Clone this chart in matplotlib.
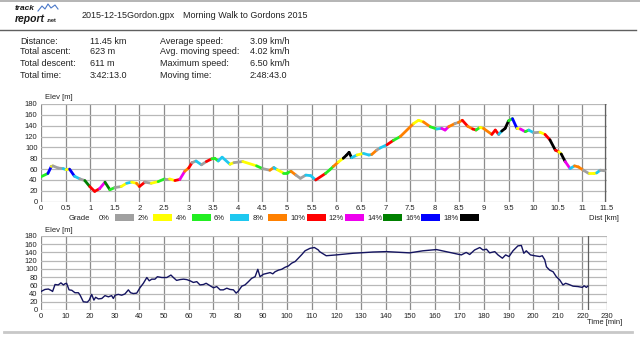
import numpy as np
import matplotlib
matplotlib.use("Agg")
import matplotlib.pyplot as plt
from matplotlib.collections import LineCollection
from matplotlib.patches import Rectangle
from matplotlib.lines import Line2D

plt.rcParams['font.family'] = ['Liberation Sans', 'DejaVu Sans']

# header / summary text
file_name = "2015-12-15Gordon.gpx"
track_title = "Morning Walk to Gordons 2015"
stat_labels_1 = ["Distance:", "Total ascent:", "Total descent:", "Total time:"]
stat_values_1 = ["11.45 km", "623 m", "611 m", "3:42:13.0"]
stat_labels_2 = ["Average speed:", "Avg. moving speed:", "Maximum speed:", "Moving time:"]
stat_values_2 = ["3.09 km/h", "4.02 km/h", "6.50 km/h", "2:48:43.0"]

# elevation vs distance (grade coloured)
dist_km = [0.00, 0.14, 0.21, 0.24, 0.35, 0.45, 0.51, 0.58, 0.68, 0.79,
           0.89, 0.99, 1.09, 1.19, 1.30, 1.40, 1.50, 1.63, 1.74, 1.84,
           1.94, 2.00, 2.11, 2.24, 2.38, 2.51, 2.61, 2.72, 2.82, 2.92,
           3.00, 3.07, 3.15, 3.26, 3.36, 3.47, 3.53, 3.60, 3.68, 3.84,
           3.92, 4.10, 4.38, 4.50, 4.65, 4.73, 4.80, 4.92, 5.00, 5.08,
           5.18, 5.27, 5.38, 5.48, 5.58, 5.78, 5.87, 5.94, 6.04, 6.14,
           6.21, 6.26, 6.31, 6.42, 6.55, 6.66, 6.72, 6.82, 6.89, 7.03,
           7.16, 7.30, 7.57, 7.67, 7.77, 7.91, 8.04, 8.14, 8.21, 8.28,
           8.41, 8.48, 8.56, 8.67, 8.77, 8.84, 8.92, 8.99, 9.16, 9.23,
           9.30, 9.36, 9.43, 9.50, 9.58, 9.67, 9.74, 9.84, 9.91, 10.01,
           10.14, 10.24, 10.34, 10.45, 10.52, 10.57, 10.65, 10.75, 10.84, 10.92,
           11.02, 11.13, 11.23, 11.29, 11.36, 11.45]
elev_m = [46, 52, 65, 66, 62, 61, 59, 60, 47, 42,
          39, 28, 19, 24, 36, 22, 26, 28, 34, 36,
          34, 28, 36, 34, 37, 42, 42, 39, 41, 56,
          62, 72, 75, 68, 74, 79, 80, 75, 82, 69,
          72, 74, 66, 61, 58, 63, 59, 53, 53, 56,
          49, 43, 49, 48, 40, 52, 59, 65, 73, 80,
          86, 91, 81, 86, 89, 86, 87, 95, 99, 105,
          113, 120, 144, 150, 147, 138, 134, 135, 132, 138,
          144, 146, 150, 139, 134, 132, 137, 135, 124, 132,
          124, 130, 135, 149, 153, 135, 134, 129, 132, 127,
          128, 124, 114, 95, 92, 88, 74, 61, 66, 64,
          58, 52, 52, 53, 58, 57]
# grade class of each segment: 0 -> 0-2%, 1 -> 2-4%, ... 9 -> 18%+
grade_bin = [2, 8, 1, 0, 0, 3, 1, 8, 3, 0,
             7, 5, 5, 6, 7, 2, 0, 1, 3, 1,
             4, 5, 0, 1, 2, 0, 1, 5, 6, 4,
             5, 0, 3, 0, 5, 2, 2, 3, 3, 1,
             0, 1, 2, 0, 4, 3, 1, 2, 2, 4,
             0, 0, 3, 3, 5, 2, 2, 4, 1, 9,
             9, 9, 3, 1, 3, 3, 4, 0, 3, 5,
             2, 4, 1, 1, 4, 2, 3, 6, 6, 4,
             0, 4, 5, 4, 5, 2, 1, 4, 5, 5,
             3, 9, 9, 2, 8, 1, 6, 2, 3, 0,
             1, 5, 9, 5, 1, 9, 6, 3, 4, 4,
             0, 1, 1, 3, 0]
grade_labels = ["0%", "2%", "4%", "6%", "8%", "10%", "12%", "14%", "16%", "18%"]
grade_colors = ["#a0a0a0", "#ffff00", "#22ee22", "#1ec8f0", "#ff8000",
                "#ff0000", "#ee00ee", "#008000", "#0000ff", "#000000"]

# elevation vs time
time_min = [0, 1.6, 3.0, 4.3, 4.7, 5.7, 7.0, 8.1, 9.1, 9.8,
            10.4, 11.4, 12.5, 13.8, 15.2, 15.9, 17.2, 18.8, 19.6, 20.6,
            21.5, 22.2, 23.3, 24.7, 26.0, 27.4, 28.7, 29.4, 30.1, 31.4,
            32.8, 34.1, 35.5, 36.4, 37.5, 38.9, 40.2, 41.6, 43.0, 44.0,
            45.0, 46.3, 47.3, 49.1, 51.1, 52.8, 53.8, 55.1, 56.5, 57.9,
            59.2, 60.6, 61.9, 63.3, 64.6, 66.0, 67.1, 68.7, 70.1, 71.4,
            72.8, 74.1, 75.5, 76.8, 78.2, 79.3, 80.2, 81.6, 82.9, 84.3,
            85.6, 87.0, 88.1, 89.0, 90.4, 91.7, 93.1, 94.2, 95.1, 96.5,
            97.8, 99.2, 100.5, 101.9, 103.3, 104.6, 106.0, 107.3, 109.3, 111.1,
            112.7, 113.2, 115.9, 120.0, 126.8, 134.9, 140.3, 149.8, 155.2, 160.7,
            166.1, 170.8, 172.8, 174.2, 176.2, 178.3, 179.6, 181.0, 182.3, 184.4,
            185.7, 187.5, 188.8, 190.2, 191.8, 193.8, 195.2, 196.2, 197.2, 198.9,
            200.6, 202.7, 203.7, 204.7, 205.4, 206.7, 208.1, 209.4, 210.8, 212.1,
            213.2, 214.6, 216.2, 218.2, 220.0, 220.7, 221.6, 222.2]
elev_time_m = [45, 50, 51, 47, 45, 62, 61, 66, 61, 64,
               65, 49, 48, 42, 42, 36, 20, 19, 24, 38,
               24, 31, 27, 28, 35, 32, 35, 28, 36, 38,
               36, 39, 49, 42, 40, 41, 54, 65, 79, 71,
               75, 75, 81, 79, 79, 85, 79, 72, 74, 75,
               74, 71, 67, 69, 61, 62, 65, 59, 54, 57,
               49, 49, 53, 50, 49, 41, 46, 58, 61, 69,
               77, 81, 99, 81, 87, 89, 91, 88, 93, 97,
               99, 104, 107, 114, 118, 126, 135, 144, 150, 152,
               146, 142, 132, 134, 138, 141, 142, 139, 144, 147,
               140, 134, 140, 135, 146, 152, 146, 148, 139, 142,
               134, 126, 134, 130, 144, 156, 157, 138, 144, 134,
               132, 130, 132, 122, 105, 97, 93, 81, 73, 61,
               65, 62, 58, 57, 55, 59, 55, 58]
total_dist = 11.45
total_time = 222.2

W, H = 640, 338


def fx(x):
    return x / W


def fy(y):
    return 1 - y / H


fig = plt.figure(figsize=(6.4, 3.38), dpi=100)

# header lines
fig.add_artist(Line2D([0, 1], [fy(0.5), fy(0.5)], color="#a8a8a8", lw=1.2))
fig.add_artist(Line2D([0, fx(636)], [fy(30), fy(30)], color="#606060", lw=1.0))
fig.add_artist(Line2D([fx(4), fx(632)], [fy(332), fy(332)], color="#c8c8c8", lw=2.0))

# logo
fig.text(fx(15), fy(9), "track", fontsize=6, fontweight="bold", style="italic", color="#1a1a1a", va="center")
fig.text(fx(15), fy(19), "report", fontsize=7.5, fontweight="bold", style="italic", color="#1a1a1a", va="center")
fig.text(fx(47), fy(20.5), ".net", fontsize=4, fontweight="bold", color="#1a1a1a", va="center")
mx = [38, 42, 45, 48, 51, 55, 58]
my = [11, 6, 9, 4, 8, 5, 9]
fig.add_artist(Line2D([fx(v) for v in mx], [fy(v) for v in my], color="#4a78c8", lw=0.8))

fig.text(fx(82), fy(15), file_name, fontsize=6.5, va="center", color="#222222")
fig.text(fx(183), fy(15), track_title, fontsize=6.5, va="center", color="#222222")

rows_y = [41, 52, 63, 75]
for i, y in enumerate(rows_y):
    fig.text(fx(20), fy(y), stat_labels_1[i], fontsize=6.5, va="center", color="#222222")
    fig.text(fx(90), fy(y), stat_values_1[i], fontsize=6.5, va="center", color="#222222")
    fig.text(fx(160), fy(y), stat_labels_2[i], fontsize=6.5, va="center", color="#222222")
    fig.text(fx(250), fy(y), stat_values_2[i], fontsize=6.5, va="center", color="#222222")


def style_axes(ax):
    for s in ax.spines.values():
        s.set_visible(False)
    ax.set_axisbelow(True)
    ax.xaxis.grid(True, color="#8c8c8c", lw=0.9)
    ax.yaxis.grid(True, color="#b8b8b8", lw=0.9)
    ax.tick_params(length=0, labelsize=5.5, pad=2.5, colors="#222222")
    ax.set_ylim(0, 180)
    ax.set_yticks(np.arange(0, 181, 20))


# distance chart
ax1 = fig.add_axes([fx(41), fy(201.7), 566 / W, 97.7 / H])
style_axes(ax1)
ax1.set_xlim(0, 11.5)
xt = np.arange(0, 11.51, 0.5)
ax1.set_xticks(xt)
ax1.set_xticklabels([f"{v:g}" for v in xt])
ax1.axvline(total_dist, color="#606060", lw=0.9, zorder=1)
pts = np.column_stack([dist_km, elev_m])
segs = np.stack([pts[:-1], pts[1:]], axis=1)
lc = LineCollection(segs, colors=[grade_colors[b] for b in grade_bin], linewidths=2.0, capstyle="round", zorder=3)
ax1.add_collection(lc)
fig.text(fx(45), fy(98), "Elev [m]", fontsize=5.5, va="center", color="#222222")
fig.text(fx(619), fy(218), "Dist [km]", fontsize=5.5, va="center", ha="right", color="#222222")

# grade legend
fig.text(fx(90), fy(218), "Grade", fontsize=5.5, va="center", ha="right", color="#222222")
for i, lab in enumerate(grade_labels):
    x0 = 99 + i * 38.3
    fig.text(fx(x0), fy(218), lab, fontsize=5.5, va="center", color="#222222")
    fig.add_artist(Rectangle((fx(x0 + 16), fy(221)), 19 / W, 7 / H,
                             facecolor=grade_colors[i], edgecolor="none"))

# time chart
ax2 = fig.add_axes([fx(41), fy(310), 566 / W, 74 / H])
style_axes(ax2)
ax2.set_xlim(0, 230)
ax2.set_xticks(np.arange(0, 231, 10))
ax2.axvline(total_time, color="#606060", lw=0.9, zorder=1)
ax2.plot(time_min, elev_time_m, color="#141460", lw=1.0, zorder=3)
fig.text(fx(45), fy(230), "Elev [m]", fontsize=5.5, va="center", color="#222222")
fig.text(fx(622), fy(323), "Time [min]", fontsize=5.5, va="center", ha="right", color="#222222")

fig.savefig("out.png", dpi=100)
